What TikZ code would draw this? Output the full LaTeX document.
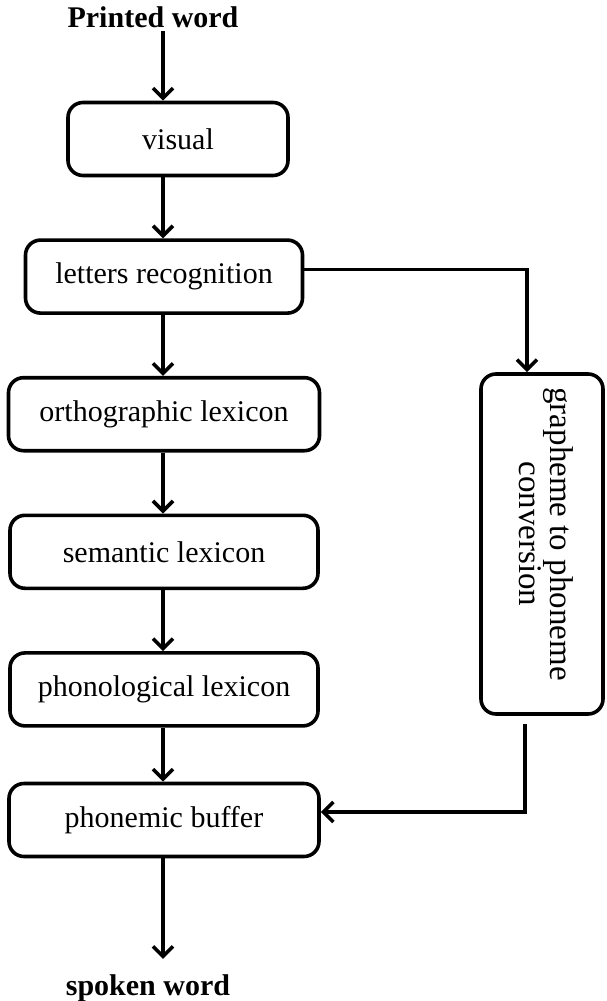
\documentclass[tikz,border=0pt]{standalone}
\usepackage{fontspec}
\setmainfont{Liberation Serif}
\usetikzlibrary{arrows.meta, positioning}

\begin{document}
\begin{tikzpicture}[
    x=1pt, y=-1pt,
    %% -- Node styles ------------------------------------------------------
    %%
    %% stage: one processing step of the reading route (rounded box).
    stage/.style={
        draw,
        rounded corners=15pt,
        line width=3.6pt,
        minimum height=73pt,
        align=center,
        font=\fontsize{30}{36}\selectfont,
    },
    %% term: bold input / output word, no frame
    term/.style={font=\fontsize{30}{36}\selectfont\bfseries},
    %% -- Edge styles --------------------------------------------------------
    flow/.style={
        -{Straight Barb[length=10pt,width=20pt]},
        line width=3.6pt,
    },
]
\useasboundingbox (0,0) rectangle (606,1001);

%% -- Place nodes here -----------------------------------------------------

\coordinate (spine) at (163,0);

\node[term]                                                    (printed)  at (153,17) {Printed word};
\node[stage, minimum width=220pt]                              (visual)   at (178,139) {visual};
\node[stage, minimum width=277pt, below=61pt of visual, xshift=-14pt] (letters)  {letters recognition};
\node[stage, minimum width=311pt, below=61pt of letters]       (ortho)    {orthographic lexicon};
\node[stage, minimum width=308pt, below=61pt of ortho]         (semantic) {semantic lexicon};
\node[stage, minimum width=308pt, below=61pt of semantic]      (phono)    {phonological lexicon};
\node[stage, minimum width=310pt, below=54pt of phono]         (buffer)   {phonemic buffer};
\node[term]                                                    (spoken)   at (148,988) {spoken word};

\node[stage, minimum width=122pt, minimum height=340pt]        (gpc)      at (542,544) {};
\node[rotate=-90, align=center, font=\fontsize{33}{31}\selectfont] (gpclabel) at ([xshift=4pt, yshift=10pt]gpc.center) {grapheme to phoneme\\conversion};

%% -- Draw edges here ------------------------------------------------------

%% lexical route (straight down):
\draw[flow] (printed.south -| spine)  -- (visual.north -| spine);
\draw[flow] (visual.south -| spine)   -- (letters.north -| spine);
\draw[flow] (letters.south -| spine)  -- (ortho.north -| spine);
\draw[flow] (ortho.south -| spine)    -- (semantic.north -| spine);
\draw[flow] (semantic.south -| spine) -- (phono.north -| spine);
\draw[flow] (phono.south -| spine)    -- (buffer.north -| spine);
\draw[flow, shorten >=12pt] (buffer.south -| spine) -- (spoken.north -| spine);

% sublexical route -- round the right side:
\draw[flow] ([yshift=7pt]letters.east) -| ([xshift=-15pt]gpc.north);
\draw[flow] ([xshift=-17pt, yshift=-8pt]gpc.south) |- ([yshift=8pt]buffer.east);

\end{tikzpicture}
\end{document}
